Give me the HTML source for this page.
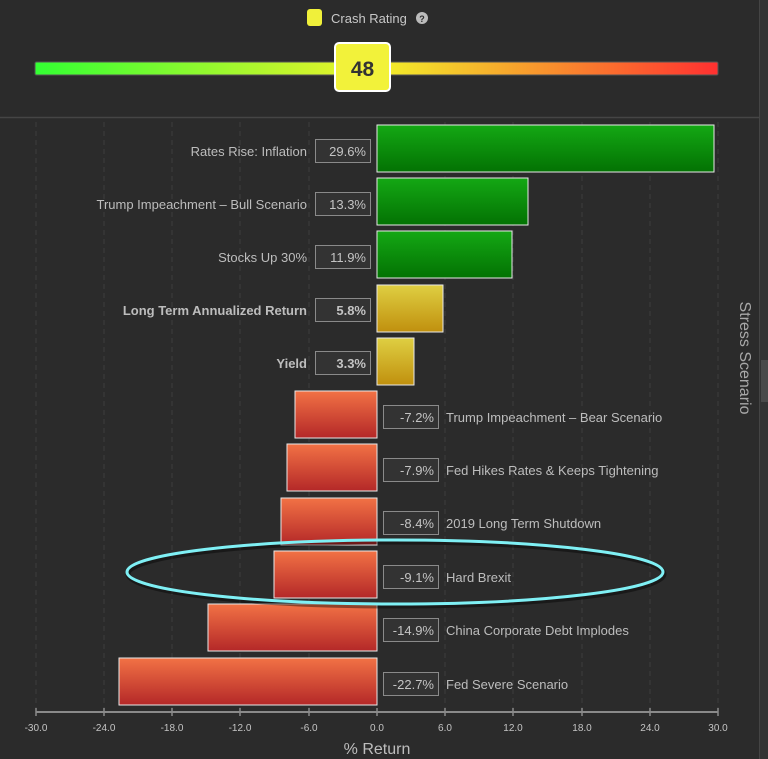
<!DOCTYPE html>
<html><head><meta charset="utf-8"><style>
html,body{margin:0;padding:0;background:#2b2b2b;}
svg{display:block;font-family:"Liberation Sans",sans-serif;}
</style></head><body>
<svg width="768" height="759" viewBox="0 0 768 759" xmlns="http://www.w3.org/2000/svg">
<defs>
<linearGradient id="gauge" x1="0" x2="1" y1="0" y2="0">
<stop offset="0" stop-color="#33ff33"/><stop offset="0.5" stop-color="#f2f22a"/><stop offset="1" stop-color="#ff3030"/>
</linearGradient>
<linearGradient id="g" x1="0" y1="0" x2="0" y2="1"><stop offset="0" stop-color="#14a814"/><stop offset="1" stop-color="#037203"/></linearGradient>
<linearGradient id="y" x1="0" y1="0" x2="0" y2="1"><stop offset="0" stop-color="#dfcf42"/><stop offset="1" stop-color="#c0900e"/></linearGradient>
<linearGradient id="r" x1="0" y1="0" x2="0" y2="1"><stop offset="0" stop-color="#f27245"/><stop offset="1" stop-color="#b42828"/></linearGradient>
</defs>
<rect width="768" height="759" fill="#2b2b2b"/>
<rect x="760" y="0" width="8" height="759" fill="#333"/>
<line x1="759.5" y1="0" x2="759.5" y2="759" stroke="#444" stroke-width="1"/>
<rect x="761" y="360" width="7" height="42" fill="#4a4a4a"/>
<line x1="0" y1="117.5" x2="759" y2="117.5" stroke="#454545" stroke-width="1.5"/>
<!-- legend -->
<rect x="307" y="9" width="15" height="17" rx="3" fill="#f0f03a"/>
<text x="331" y="23" font-size="13" fill="#c8c8c8">Crash Rating</text>
<circle cx="422" cy="18" r="6" fill="#bbb"/><text x="422" y="22" font-size="9" font-weight="bold" fill="#2b2b2b" text-anchor="middle">?</text>
<!-- gauge -->
<rect x="35" y="62" width="683" height="13" rx="1.5" fill="url(#gauge)" stroke="#555" stroke-width="1"/>
<rect x="335" y="43" width="55" height="48" rx="4" fill="#f2f23a" stroke="#fff" stroke-width="2"/>
<text x="362.5" y="76" font-size="21" font-weight="bold" fill="#333" text-anchor="middle">48</text>
<!-- grid -->
<g stroke="#3d3d3d" stroke-width="1" stroke-dasharray="5,4">
<line x1="36" y1="122" x2="36" y2="712"/><line x1="104" y1="122" x2="104" y2="712"/><line x1="172" y1="122" x2="172" y2="712"/><line x1="240" y1="122" x2="240" y2="712"/><line x1="309" y1="122" x2="309" y2="712"/><line x1="445" y1="122" x2="445" y2="712"/><line x1="513" y1="122" x2="513" y2="712"/><line x1="582" y1="122" x2="582" y2="712"/><line x1="650" y1="122" x2="650" y2="712"/><line x1="718" y1="122" x2="718" y2="712"/>
</g>
<!-- bars -->
<g stroke="#e8e8e8" stroke-width="1">
<rect x="377" y="125" width="337" height="47" fill="url(#g)"/>
<rect x="377" y="178" width="151" height="47" fill="url(#g)"/>
<rect x="377" y="231" width="135" height="47" fill="url(#g)"/>
<rect x="377" y="285" width="66" height="47" fill="url(#y)"/>
<rect x="377" y="338" width="37" height="47" fill="url(#y)"/>
<rect x="295" y="391" width="82" height="47" fill="url(#r)"/>
<rect x="287" y="444" width="90" height="47" fill="url(#r)"/>
<rect x="281" y="498" width="96" height="47" fill="url(#r)"/>
<rect x="274" y="551" width="103" height="47" fill="url(#r)"/>
<rect x="208" y="604" width="169" height="47" fill="url(#r)"/>
<rect x="119" y="658" width="258" height="47" fill="url(#r)"/>
</g>
<!-- value boxes -->
<g fill="#333" stroke="#8a8a8a" stroke-width="1">
<rect x="315.5" y="139.5" width="55" height="23"/><rect x="315.5" y="192.5" width="55" height="23"/><rect x="315.5" y="245.5" width="55" height="23"/><rect x="315.5" y="298.5" width="55" height="23"/><rect x="315.5" y="351.5" width="55" height="23"/>
<rect x="383.5" y="405.5" width="55" height="23"/><rect x="383.5" y="458.5" width="55" height="23"/><rect x="383.5" y="511.5" width="55" height="23"/><rect x="383.5" y="565.5" width="55" height="23"/><rect x="383.5" y="618.5" width="55" height="23"/><rect x="383.5" y="672.5" width="55" height="23"/>
</g>
<g font-size="13" fill="#c4c4c4" text-anchor="end">
<text x="366" y="156">29.6%</text><text x="366" y="209">13.3%</text><text x="366" y="262">11.9%</text>
<text x="366" y="315" font-weight="bold">5.8%</text><text x="366" y="368" font-weight="bold">3.3%</text>
<text x="434" y="422">-7.2%</text><text x="434" y="475">-7.9%</text><text x="434" y="528">-8.4%</text><text x="434" y="582">-9.1%</text><text x="434" y="635">-14.9%</text><text x="434" y="689">-22.7%</text>
</g>
<g font-size="13" fill="#bdbdbd" text-anchor="end">
<text x="307" y="156">Rates Rise: Inflation</text>
<text x="307" y="209">Trump Impeachment – Bull Scenario</text>
<text x="307" y="262">Stocks Up 30%</text>
<text x="307" y="315" font-weight="bold">Long Term Annualized Return</text>
<text x="307" y="368" font-weight="bold">Yield</text>
</g>
<g font-size="13" fill="#bdbdbd">
<text x="446" y="422">Trump Impeachment – Bear Scenario</text>
<text x="446" y="475">Fed Hikes Rates &amp; Keeps Tightening</text>
<text x="446" y="528">2019 Long Term Shutdown</text>
<text x="446" y="582">Hard Brexit</text>
<text x="446" y="635">China Corporate Debt Implodes</text>
<text x="446" y="689">Fed Severe Scenario</text>
</g>
<!-- axis -->
<line x1="36" y1="712" x2="718" y2="712" stroke="#8a8a8a" stroke-width="2"/>
<g stroke="#8a8a8a" stroke-width="1.5">
<line x1="36" y1="708" x2="36" y2="716"/><line x1="104" y1="708" x2="104" y2="716"/><line x1="172" y1="708" x2="172" y2="716"/><line x1="240" y1="708" x2="240" y2="716"/><line x1="309" y1="708" x2="309" y2="716"/><line x1="377" y1="708" x2="377" y2="716"/><line x1="445" y1="708" x2="445" y2="716"/><line x1="513" y1="708" x2="513" y2="716"/><line x1="582" y1="708" x2="582" y2="716"/><line x1="650" y1="708" x2="650" y2="716"/><line x1="718" y1="708" x2="718" y2="716"/>
</g>
<g font-size="10" fill="#c4c4c4" text-anchor="middle">
<text x="36" y="731">-30.0</text><text x="104" y="731">-24.0</text><text x="172" y="731">-18.0</text><text x="240" y="731">-12.0</text><text x="309" y="731">-6.0</text><text x="377" y="731">0.0</text><text x="445" y="731">6.0</text><text x="513" y="731">12.0</text><text x="582" y="731">18.0</text><text x="650" y="731">24.0</text><text x="718" y="731">30.0</text>
</g>
<text x="377" y="754" font-size="16" fill="#bdbdbd" text-anchor="middle">% Return</text>
<text transform="translate(740,358) rotate(90)" font-size="16" fill="#a8a8a8" text-anchor="middle">Stress Scenario</text>
<!-- highlight ellipse -->
<ellipse cx="395" cy="572" rx="268" ry="32" fill="none" stroke="#000" stroke-opacity="0.4" stroke-width="5" transform="translate(1,2)"/>
<ellipse cx="395" cy="572" rx="268" ry="32" fill="none" stroke="#7ff0f5" stroke-width="3"/>
</svg>
</body></html>
